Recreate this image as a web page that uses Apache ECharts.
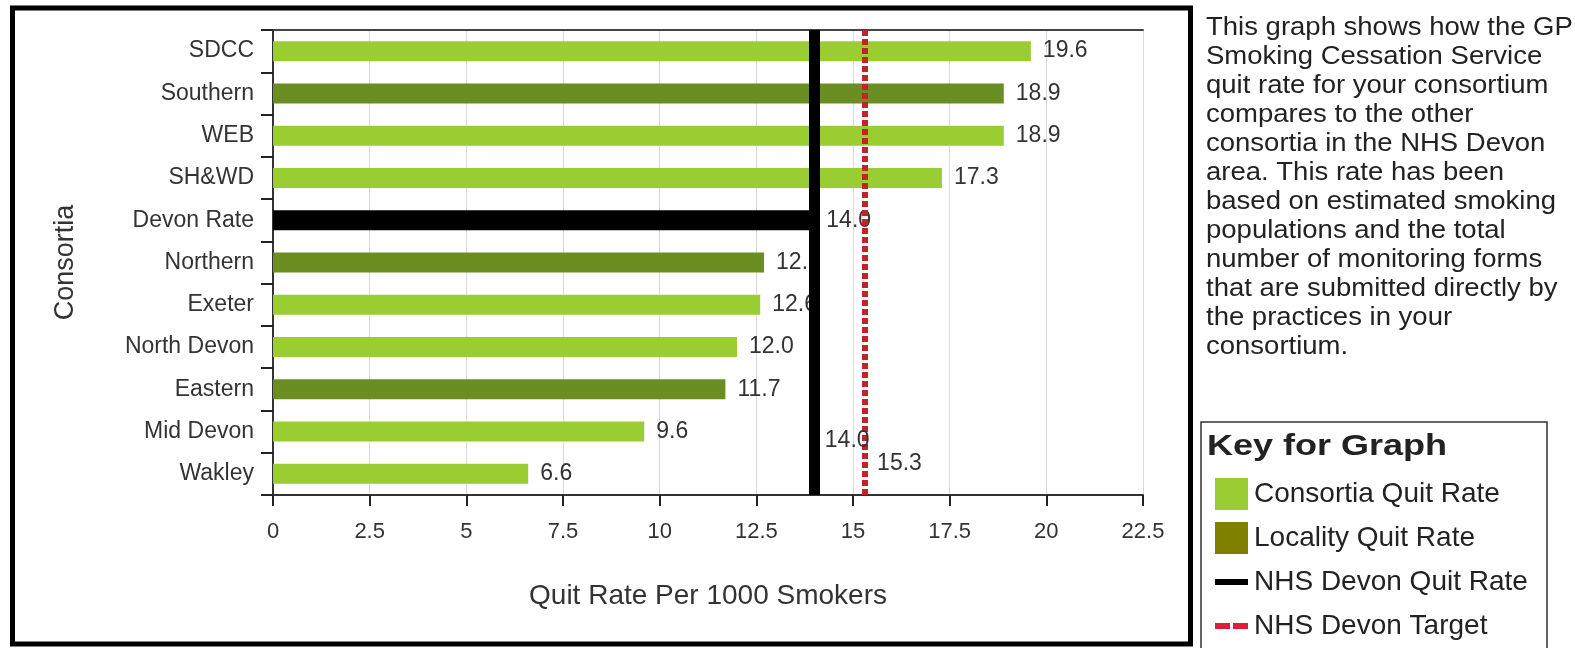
<!DOCTYPE html>
<html>
<head>
<meta charset="utf-8">
<script src="https://cdn.jsdelivr.net/npm/echarts@6/dist/echarts.min.js"></script>
<style>
  html, body { margin: 0; padding: 0; background: #fff; }
  #chart { width: 1575px; height: 648px; }
</style>
</head>
<body>
<div id="chart"></div>
<script>
// ---- data ----
const categories = ['SDCC', 'Southern', 'WEB', 'SH&WD', 'Devon Rate', 'Northern', 'Exeter', 'North Devon', 'Eastern', 'Mid Devon', 'Wakley'];
const quitRates = [19.6, 18.9, 18.9, 17.3, 14.0, 12.7, 12.6, 12.0, 11.7, 9.6, 6.6];
const groupTypes = ['consortia', 'locality', 'consortia', 'consortia', 'devon', 'locality', 'consortia', 'consortia', 'locality', 'consortia', 'consortia'];
const devonQuitRate = 14.0;
const devonTarget = 15.3;
const xAxisMin = 0;
const xAxisMax = 22.5;
const xAxisInterval = 2.5;
const legendNames = ['Consortia Quit Rate', 'Locality Quit Rate', 'NHS Devon Quit Rate', 'NHS Devon Target'];
const description = 'This graph shows how the GP\nSmoking Cessation Service\nquit rate for your consortium\ncompares to the other\nconsortia in the NHS Devon\narea. This rate has been\nbased on estimated smoking\npopulations and the total\nnumber of monitoring forms\nthat are submitted directly by\nthe practices in your\nconsortium.';
const keyTitle = 'Key for Graph';

// ---- styles ----
const FONT = '"Liberation Sans", Arial, sans-serif';
const barColors = { consortia: '#9acd32', locality: '#6b8e23', devon: '#000000' };

const barData = quitRates.map((v, i) => ({
  value: v,
  itemStyle: { color: barColors[groupTypes[i]] }
}));

const chart = echarts.init(document.getElementById('chart'), null, { renderer: 'canvas' });

const option = {
  animation: false,
  backgroundColor: '#ffffff',
  textStyle: { fontFamily: FONT },
  grid: {
    left: 273, right: 432, top: 30, bottom: 153,
    containLabel: false,
    outerBoundsMode: 'none'
  },
  xAxis: [{
    type: 'value',
    position: 'bottom',
    min: xAxisMin, max: xAxisMax, interval: xAxisInterval,
    name: 'Quit Rate Per 1000 Smokers',
    nameLocation: 'middle',
    nameGap: 87,
    nameTextStyle: { fontSize: 28, color: '#333', fontFamily: FONT },
    axisLine: { show: true, lineStyle: { color: '#333', width: 2 } },
    axisTick: { show: true, length: 11, lineStyle: { color: '#222', width: 2 } },
    axisLabel: { fontSize: 22, color: '#333', margin: 26, fontFamily: FONT },
    splitLine: { show: true, lineStyle: { color: '#d9d9d9', width: 1 } }
  }, {
    type: 'value',
    position: 'top',
    min: xAxisMin, max: xAxisMax, interval: xAxisInterval,
    axisLine: { show: true, onZero: false, lineStyle: { color: '#444', width: 2 } },
    axisTick: { show: false },
    axisLabel: { show: false },
    splitLine: { show: false }
  }],
  yAxis: {
    type: 'category',
    data: categories,
    inverse: true,
    name: 'Consortia',
    nameLocation: 'middle',
    nameGap: 194,
    nameTextStyle: { fontSize: 27, color: '#333', fontFamily: FONT },
    axisLine: { show: true, lineStyle: { color: '#333', width: 2 } },
    axisTick: { show: true, interval: 0, length: 12, lineStyle: { color: '#222', width: 2 } },
    axisLabel: { interval: 0, fontSize: 23, color: '#333', margin: 19, fontFamily: FONT },
    splitLine: { show: false }
  },
  legend: {
    orient: 'vertical',
    left: 1215,
    top: 478,
    height: 168,
    padding: 0,
    itemWidth: 33,
    itemHeight: 32,
    itemGap: 12,
    selectedMode: false,
    symbolKeepAspect: true,
    itemStyle: { borderWidth: 0 },
    textStyle: { fontSize: 28, color: '#222', fontFamily: FONT, lineHeight: 32, padding: [0, 0, 0, 1] },
    data: [
      { name: legendNames[0], icon: 'rect', itemStyle: { color: '#9acd32', borderWidth: 0 } },
      { name: legendNames[1], icon: 'rect', itemStyle: { color: '#808000', borderWidth: 0 } },
      { name: legendNames[2], icon: 'path://M0,0h33v6h-33z', itemStyle: { color: '#000000', borderWidth: 0 } },
      { name: legendNames[3], icon: 'path://M0,0h15v6h-15zM18,0h15v6h-15z', itemStyle: { color: '#dc1e3c', borderWidth: 0 } }
    ]
  },
  series: [{
    name: legendNames[0],
    type: 'bar',
    data: barData,
    barWidth: 20,
    z: 2,
    itemStyle: { color: '#9acd32' },
    label: {
      show: true,
      position: 'right',
      distance: 12,
      fontSize: 23,
      color: '#333',
      fontFamily: FONT,
      formatter: p => Number(p.value).toFixed(1)
    },
    emphasis: { disabled: true }
  }, {
    name: legendNames[1],
    type: 'line',
    data: [],
    itemStyle: { color: '#808000' },
    lineStyle: { color: '#808000' }
  }, {
    name: legendNames[2],
    type: 'line',
    data: [],
    z: 5,
    itemStyle: { color: '#000' },
    lineStyle: { color: '#000' },
    markLine: {
      silent: true,
      symbol: ['none', 'none'],
      label: { show: false },
      lineStyle: { color: '#000', width: 11, type: 'solid' },
      emphasis: { disabled: true },
      data: [{ xAxis: devonQuitRate }]
    },
    markPoint: {
      silent: true,
      symbol: 'circle',
      symbolSize: 1,
      itemStyle: { color: 'rgba(0,0,0,0)' },
      label: {
        show: true, position: 'right', distance: 0, offset: [10, 9],
        fontSize: 23, color: '#333', fontFamily: FONT,
        formatter: p => Number(p.value).toFixed(1)
      },
      data: [{ coord: [devonQuitRate, categories[9]], value: devonQuitRate }]
    }
  }, {
    name: legendNames[3],
    type: 'line',
    data: [],
    z: 6,
    itemStyle: { color: '#dc1e3c' },
    lineStyle: { color: '#dc1e3c' },
    markLine: {
      silent: true,
      symbol: ['none', 'none'],
      label: { show: false },
      lineStyle: { color: '#bf2429', width: 6, type: [6, 3] },
      emphasis: { disabled: true },
      data: [{ xAxis: devonTarget }]
    },
    markPoint: {
      silent: true,
      symbol: 'circle',
      symbolSize: 1,
      itemStyle: { color: 'rgba(0,0,0,0)' },
      label: {
        show: true, position: 'right', distance: 0, offset: [12, -10],
        fontSize: 23, color: '#333', fontFamily: FONT,
        formatter: p => Number(p.value).toFixed(1)
      },
      data: [{ coord: [devonTarget, categories[10]], value: devonTarget }]
    }
  }],
  graphic: [{
    type: 'rect',
    silent: true,
    z: 100,
    shape: { x: 12.5, y: 8, width: 1178, height: 636 },
    style: { fill: 'none', stroke: '#000', lineWidth: 5 }
  }, {
    type: 'rect',
    silent: true,
    z: 100,
    shape: { x: 1201, y: 422, width: 346, height: 260 },
    style: { fill: 'none', stroke: '#333', lineWidth: 1.5 }
  }, {
    type: 'text',
    silent: true,
    z: 100,
    x: 1206, y: 14,
    scaleX: 1.1,
    style: {
      text: description,
      font: '25px ' + FONT,
      fill: '#222',
      lineHeight: 29,
      verticalAlign: 'top'
    }
  }, {
    type: 'text',
    silent: true,
    z: 100,
    x: 1207, y: 432,
    scaleX: 1.2,
    style: {
      text: keyTitle,
      font: 'bold 30px ' + FONT,
      fill: '#222',
      verticalAlign: 'top'
    }
  }]
};

chart.setOption(option);
</script>
</body>
</html>
